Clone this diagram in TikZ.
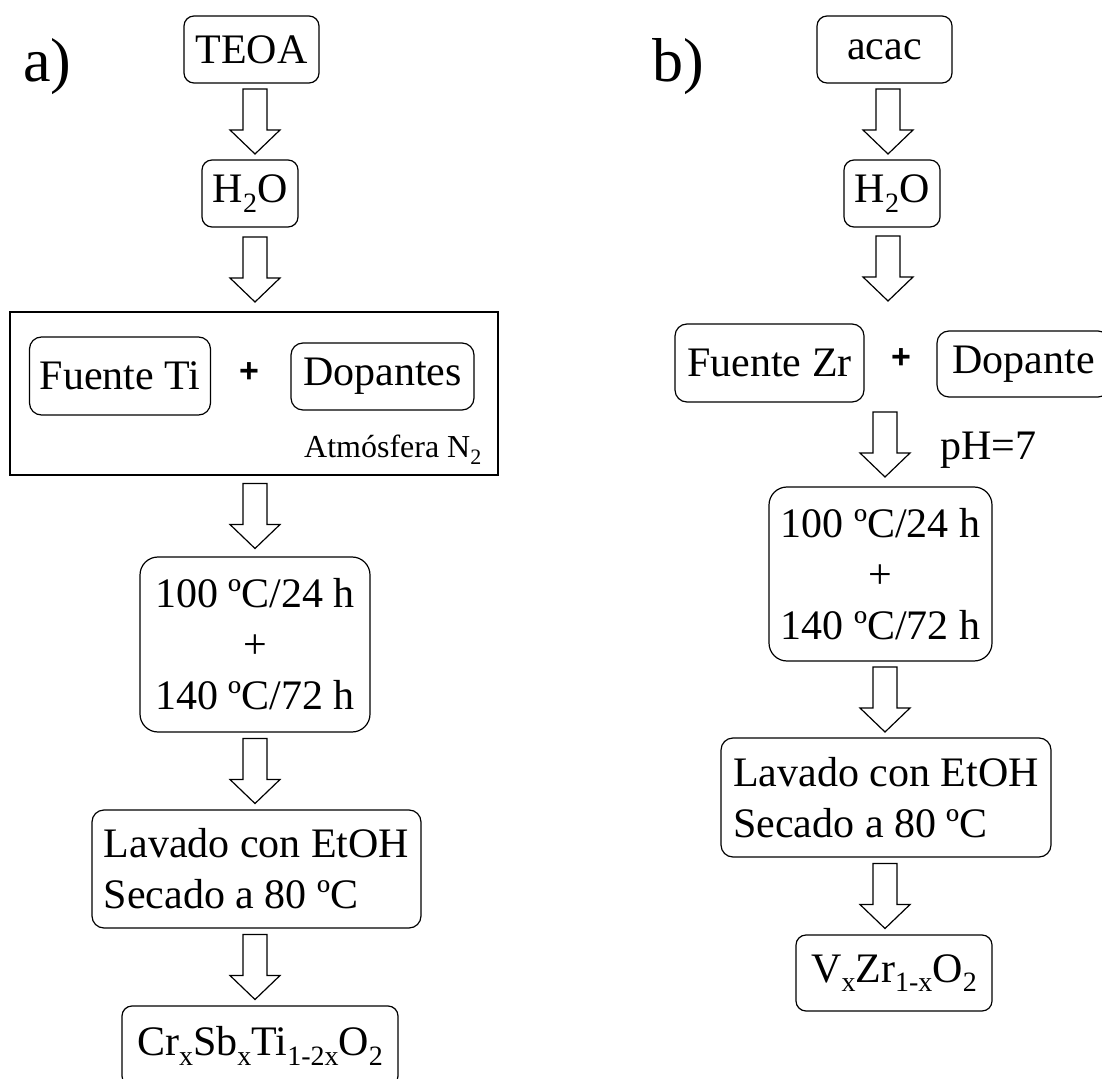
\documentclass[tikz,border=0pt]{standalone}
\usepackage{fontspec}
\setmainfont{Liberation Serif}
\newfontfamily\sansplus{Liberation Sans}
\usepackage{tikz}
\usetikzlibrary{calc}
\newcommand{\bajo}[2][14]{\raisebox{-0.22em}{\fontsize{#1}{#1}\selectfont #2}}
\newcommand{\flecha}[4][0]{%
\path ($(#2.south)!.5!(#3.north)+(0,#1)$) coordinate (fm);
\draw[bloque] (fm -| #4) +(-12,-32.5) -- +(12,-32.5) -- +(12,8.5) -- +(25,8.5) -- +(0,32.5) -- +(-25,8.5) -- +(-12,8.5) -- cycle;
}

\begin{document}
\begin{tikzpicture}[x=0.5pt,y=-0.5pt,line width=0.6pt,
caja/.style={draw,rounded corners=5pt,inner sep=0pt,align=center,font=\fontsize{21}{25.5}\selectfont},
marco/.style={draw,inner sep=0pt},
bloque/.style={draw,fill=white,line join=miter},
letra/.style={font=\fontsize{31}{36}\selectfont},
mas/.style={font=\sansplus\bfseries\fontsize{17}{18}\selectfont}]
\useasboundingbox (0,0) rectangle (1102,1079);
\coordinate (colA) at (255,0);
\coordinate (colB) at (888,0);
\coordinate (colC) at (885,0);

% a)
\node[letra] (etiqA) at (47.5,67) {a)};
\node[caja,minimum width=67.5pt,minimum height=33.5pt] (teoaA) at (251.5,49.5) {TEOA};
\node[caja,minimum width=48pt,minimum height=33.5pt] (aguaA) at (250,193.5) {H\bajo{2}O};
\node[marco,minimum width=244pt,minimum height=81.5pt] (marcoA) at (254,393.5) {};
\node[caja,rounded corners=6pt,minimum width=90.5pt,minimum height=39pt] (fuenteA) at (120,376) {Fuente Ti};
\node[mas] (masA) at (249,373) {+};
\node[caja,rounded corners=6pt,minimum width=91.5pt,minimum height=33.5pt] (dopA) at (382.5,376.5) {Dopantes};
\node[anchor=base east,font=\fontsize{16}{19}\selectfont] (atmA) at ([shift={(-10,-18)}]marcoA.south east) {Atmósfera N\bajo[11]{2}};
\node[caja,rounded corners=9pt,minimum width=115pt,minimum height=87.5pt] (tempA) at (255,644.5) {100 ºC/24 h\\+\\140 ºC/72 h};
\node[caja,rounded corners=6pt,align=left,minimum width=164.5pt,minimum height=59pt] (lavA) at (256.5,869) {Lavado con EtOH\\Secado a 80 ºC};
\node[caja,minimum width=138pt,minimum height=40pt] (prodA) at (260,1046) {Cr\bajo{x}Sb\bajo{x}Ti\bajo{1-2x}O\bajo{2}};

\flecha{teoaA}{aguaA}{colA}
\flecha{aguaA}{marcoA}{colA}
\flecha{marcoA}{tempA}{colA}
\flecha{tempA}{lavA}{colA}
\flecha{lavA}{prodA}{colA}

% b)
\node[letra] (etiqB) at (678,67) {b)};
\node[caja,minimum width=67.5pt,minimum height=33.5pt] (acacB) at (884.5,49.5) {acac};
\node[caja,minimum width=48pt,minimum height=33.5pt] (aguaB) at (892,193.5) {H\bajo{2}O};
\node[caja,rounded corners=6pt,minimum width=94.5pt,minimum height=39pt] (fuenteB) at (769.5,363) {Fuente Zr};
\node[mas] (masB) at (901,359) {+};
\node[caja,rounded corners=6pt,minimum width=86.5pt,minimum height=33pt] (dopB) at (1023.5,364) {Dopante};
\node[anchor=base west,font=\fontsize{21}{25.5}\selectfont] (phB) at (933,459) {pH=7};
\node[caja,rounded corners=9pt,minimum width=111.5pt,minimum height=87pt] (tempB) at (880.5,574) {100 ºC/24 h\\+\\140 ºC/72 h};
\node[caja,rounded corners=6pt,align=left,minimum width=165pt,minimum height=59.5pt] (lavB) at (886,797.5) {Lavado con EtOH\\Secado a 80 ºC};
\node[caja,minimum width=98pt,minimum height=38pt] (prodB) at (894,973) {V\bajo{x}Zr\bajo{1-x}O\bajo{2}};

\flecha{acacB}{aguaB}{colB}
\flecha[-7]{aguaB}{fuenteB}{colB}
\flecha{fuenteB}{tempB}{colC}
\flecha{tempB}{lavB}{colC}
\flecha{lavB}{prodB}{colC}

\end{tikzpicture}
\end{document}
